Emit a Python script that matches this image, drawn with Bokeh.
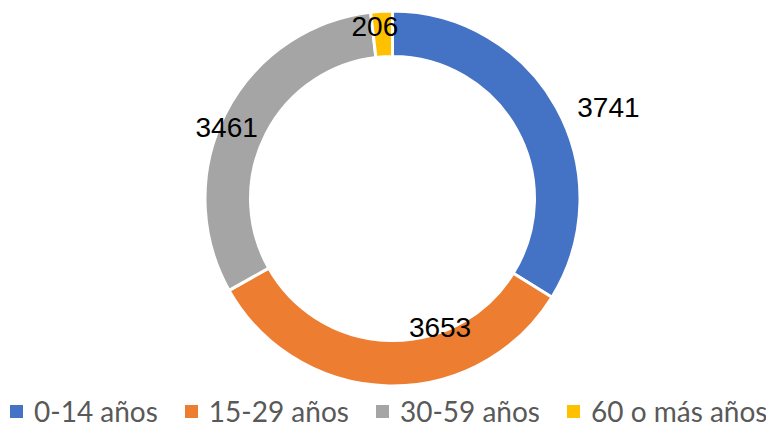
import numpy as np
from bokeh.plotting import figure
from bokeh.models import Range1d, ColumnDataSource, Legend, LegendItem
from bokeh.core.properties import value
from bokeh.embed import file_html
from bokeh.resources import INLINE

# ---- data ----
categories = ["0-14 años", "15-29 años", "30-59 años", "60 o más años"]
values = [3741, 3653, 3461, 206]
colors = ["#4472C4", "#ED7D31", "#A5A5A5", "#FFC000"]

# ---- layout ----
W, H = 766, 428
cx, cy = 392, 246
r_in, r_out = 142, 187.5
label_dx = [72, 51, -19, -8]     # screen px nudges of the data labels
label_dy = [-11, -36, 4, -8]

vals = np.array(values, dtype=float)
frac = vals / vals.sum()
cum = np.concatenate([[0.0], np.cumsum(frac)])
start = np.pi / 2 - 2 * np.pi * cum[:-1]
end = np.pi / 2 - 2 * np.pi * cum[1:]
mid = (start + end) / 2
r_mid = (r_in + r_out) / 2

src = ColumnDataSource(dict(
    cat=categories, val=values, color=colors,
    start=start, end=end,
    lx=cx + r_mid * np.cos(mid), ly=cy + r_mid * np.sin(mid),
    txt=[str(v) for v in values], dx=label_dx, dy=label_dy,
))

p = figure(width=W, height=H, x_range=Range1d(0, W), y_range=Range1d(444 - H, 444),
           output_backend="svg", toolbar_location=None, min_border=0)
p.axis.visible = False
p.grid.visible = False
p.outline_line_color = None
p.background_fill_color = "white"
p.border_fill_color = "white"

wr = p.annular_wedge(x=cx, y=cy, inner_radius=r_in, outer_radius=r_out,
                     start_angle="start", end_angle="end", direction="clock",
                     fill_color="color", line_color="white", line_width=3, source=src)

p.text(x="lx", y="ly", text="txt", x_offset="dx", y_offset="dy", source=src,
       text_font=value("Liberation Sans"), text_font_size="28px", text_color="black",
       text_align="center", text_baseline="middle")

items = [LegendItem(label=c, renderers=[wr], index=i) for i, c in enumerate(categories)]
legend = Legend(items=items, orientation="horizontal", location=(6, 0),
                glyph_width=20, glyph_height=20, label_standoff=8, spacing=23,
                padding=0, margin=0, border_line_color=None, background_fill_alpha=0,
                label_text_font="Lato", label_text_font_size="28px",
                label_text_color="#595959", label_text_baseline="middle")
p.add_layout(legend, "center")

open("out.html", "w").write(file_html(p, INLINE))
